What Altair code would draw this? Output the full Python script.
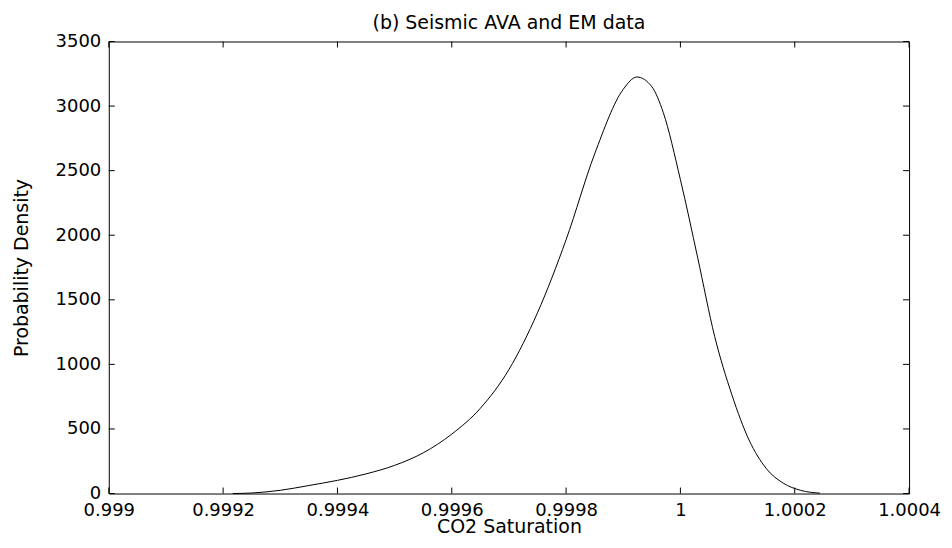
import altair as alt
import pandas as pd

# Curve
sat = [0.999217, 0.99925, 0.9993, 0.99935, 0.9994, 0.99945, 0.9995, 0.99955,
       0.9996, 0.99965, 0.9997, 0.99975, 0.9998, 0.99985, 0.9999, 0.999924,
       0.99995, 0.99997, 1.0, 1.00003, 1.00006, 1.00009, 1.00012, 1.00015,
       1.00018, 1.00021, 1.000244]
dens = [0, 4, 25, 62, 102, 152, 218, 315,
        460, 660, 960, 1400, 1965, 2630, 3130, 3225,
        3150, 2950, 2430, 1830, 1215, 765, 415, 195,
        80, 25, 3]

x_ticks = [0.999, 0.9992, 0.9994, 0.9996, 0.9998, 1.0, 1.0002, 1.0004]
y_ticks = [0, 500, 1000, 1500, 2000, 2500, 3000, 3500]

W, H = 802, 453
FONT = "DejaVu Sans"
TICK = 6

curve = pd.DataFrame({"x": sat, "y": dens})
xt = pd.DataFrame({"x": x_ticks})
yt = pd.DataFrame({"y": y_ticks})

x_scale = alt.Scale(domain=[0.999, 1.0004], nice=False, zero=False)
y_scale = alt.Scale(domain=[0, 3500], nice=False, zero=False)

x_axis = alt.Axis(values=x_ticks, labelExpr="format(datum.value, '.4~f')",
                  title="CO2 Saturation", ticks=False, domain=False, grid=False,
                  labelPadding=8, labelFlush=False, labelOverlap=False,
                  titleY=39, titleBaseline="alphabetic")
y_axis = alt.Axis(values=y_ticks, format="d", title="Probability Density",
                  ticks=False, domain=False, grid=False, labelPadding=8,
                  labelFlush=False, labelOverlap=False,
                  titleX=-81, titleY=H / 2, titleAngle=270,
                  titleBaseline="alphabetic", titleAlign="center")

x_enc = alt.X("x:Q", scale=x_scale, axis=x_axis)
y_enc = alt.Y("y:Q", scale=y_scale, axis=y_axis)

line = alt.Chart(curve).mark_line(color="black", strokeWidth=1, interpolate="monotone").encode(
    x=x_enc, y=y_enc)

bottom_ticks = alt.Chart(xt).mark_rule(color="black", strokeWidth=1).encode(
    x=x_enc, y=alt.value(H), y2=alt.value(H - TICK))
top_ticks = alt.Chart(xt).mark_rule(color="black", strokeWidth=1).encode(
    x=x_enc, y=alt.value(0), y2=alt.value(TICK))
left_ticks = alt.Chart(yt).mark_rule(color="black", strokeWidth=1).encode(
    y=y_enc, x=alt.value(0), x2=alt.value(TICK))
right_ticks = alt.Chart(yt).mark_rule(color="black", strokeWidth=1).encode(
    y=y_enc, x=alt.value(W), x2=alt.value(W - TICK))

chart = alt.layer(line, bottom_ticks, top_ticks, left_ticks, right_ticks).properties(
    width=W, height=H,
    autosize=alt.AutoSizeParams(type="none"),
    padding={"left": 101, "top": 33, "right": 35, "bottom": 46},
    background="white",
    title=alt.TitleParams("(b) Seismic AVA and EM data", font=FONT, fontSize=19,
                          fontWeight="normal", color="black", anchor="middle",
                          frame="group", baseline="bottom", offset=2, dy=21),
).configure_axis(
    labelFont=FONT, labelFontSize=18, labelColor="black",
    titleFont=FONT, titleFontSize=19, titleFontWeight="normal", titleColor="black",
).configure_view(stroke="black", strokeWidth=1)

chart.save("out.html", embed_options={"renderer": "svg", "actions": False})
